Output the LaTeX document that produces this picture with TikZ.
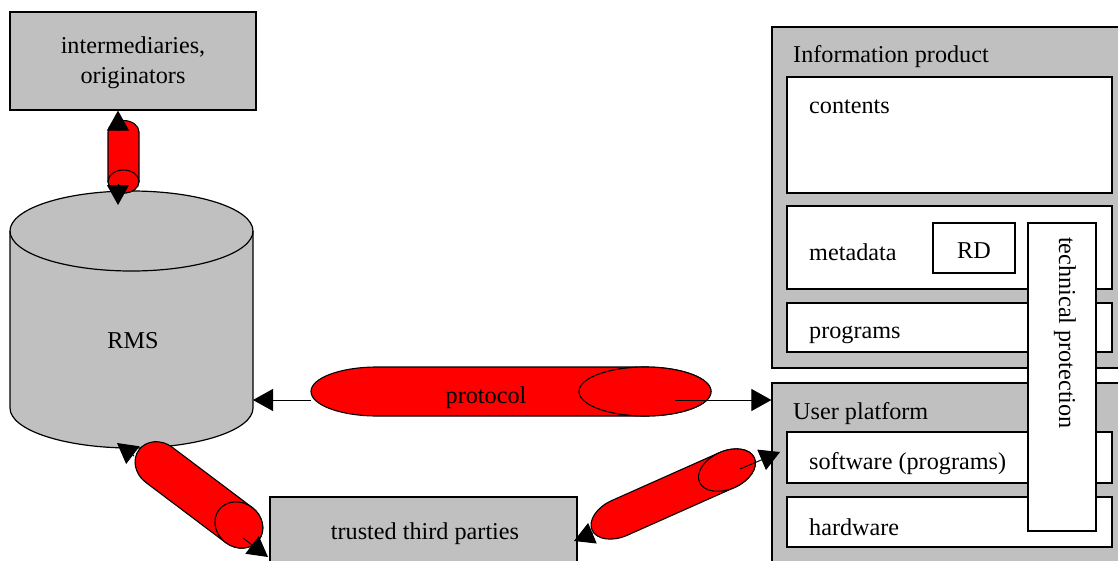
\documentclass[tikz,border=0pt]{standalone}
\usepackage{fontspec}
\setmainfont{Liberation Serif}
\usetikzlibrary{arrows.meta}
\definecolor{boxgray}{HTML}{C0C0C0}
\definecolor{canred}{HTML}{FF0000}
% #1,#2 = cap centre (px), #3 = canvas angle, #4 = length, #5 = half width, #6 = face semi-axis along axis
\newcommand\redcan[6]{%
  \begin{scope}[shift={(#1,#2)},rotate=#3]
    \filldraw[canstyle] (0pt,-#5pt) -- (#4pt,-#5pt)
      arc[start angle=-90,end angle=90,x radius=#6pt,y radius=#5pt]
      -- (0pt,#5pt)
      arc[start angle=90,end angle=270,x radius=#6pt,y radius=#5pt] -- cycle;
    \filldraw[canstyle] (#4pt,0pt) ellipse[x radius=#6pt,y radius=#5pt];
  \end{scope}}
\begin{document}
\begin{tikzpicture}[x=1pt,y=-1pt,
  every node/.style={font=\fontsize{24.2}{30}\selectfont, inner sep=0pt},
  graybox/.style={draw, fill=boxgray, line width=1.2pt},
  whitebox/.style={draw, fill=white, line width=1.2pt},
  canstyle/.style={fill=canred, draw=black, line width=1.1pt},
  arr/.style={line width=1pt, -{Triangle[length=20pt,width=22pt]}},
  lbl/.style={anchor=west}]
\useasboundingbox (0,0) rectangle (1118,560);
\clip (0,0) rectangle (1118,560);

% intermediaries box
\node[graybox, minimum width=246pt, minimum height=98pt] (inter) at (133,61) {};
\node[align=center] (intertext) at (133,63) {intermediaries,\\originators};

% RMS cylinder
\filldraw[fill=boxgray, draw=black, line width=1.2pt]
  (10,231) -- (10,408) arc[start angle=180,end angle=360,x radius=121.5pt,y radius=40pt]
  -- (253,231) arc[start angle=0,end angle=180,x radius=121.5pt,y radius=40pt] -- cycle;
\draw[line width=1.2pt] (10,231) arc[start angle=180,end angle=360,x radius=121.5pt,y radius=40pt];
\node (rms) at (133,341) {RMS};

% trusted third parties
\node[graybox, minimum width=307pt, minimum height=83pt] (ttp) at (423.5,538.5) {};
\node (ttptext) at (425,534) {trusted third parties};

% Information product
\node[graybox, minimum width=363pt, minimum height=341pt] (ip) at (953.5,197.5) {};
\node[lbl] (iptext) at (793,57) {Information product};
\node[whitebox, minimum width=325pt, minimum height=116pt] (contents) at (949.5,135) {};
\node[lbl] at (809,107) {contents};
\node[whitebox, minimum width=325pt, minimum height=83pt] (meta) at (949.5,247.5) {};
\node[lbl] at (809,252) {metadata};
\node[whitebox, minimum width=82pt, minimum height=50pt] (rd) at (974,248) {};
\node at (974,251) {RD};
\node[whitebox, minimum width=325pt, minimum height=49pt] (prog) at (949.5,327.5) {};
\node[lbl] at (809,335) {programs};

% User platform
\node[graybox, minimum width=363pt, minimum height=197pt] (up) at (953.5,481.5) {};
\node[lbl] (uptext) at (793,414) {User platform};
\node[whitebox, minimum width=325pt, minimum height=51pt] (sw) at (949.5,457.5) {};
\node[lbl] at (809,464) {software (programs)};
\node[whitebox, minimum width=325pt, minimum height=50pt] (hw) at (949.5,522) {};
\node[lbl] at (809,527) {hardware};

% technical protection
\node[whitebox, minimum width=68pt, minimum height=308pt] (tech) at (1062,377) {};
\node[rotate=-90, anchor=west] (techtext) at (1065,237) {technical protection};

% red cans
\redcan{123.5}{132}{-90}{49.5}{15.5}{11.5}
\redcan{377}{391.5}{0}{268}{24.5}{66}
\redcan{159}{464.8}{-37}{100}{22}{25}
\redcan{619.5}{517.9}{24}{117.6}{19}{30}
\node (proto) at (486,398) {protocol};

% connector coordinates
\coordinate (v1a) at (118,130);
\coordinate (v1b) at (118,184);
\coordinate (rmsT) at (118,205);
\coordinate (pL) at (311,400);
\coordinate (pR) at (675,400);
\coordinate (rmsE) at (253,400);
\coordinate (d1a) at (134,456);
\coordinate (rmsB) at (117,443);
\coordinate (d1b) at (243,538);
\coordinate (ttpA) at (268,557);
\coordinate (d2a) at (593,533);
\coordinate (ttpB) at (574,541);
\coordinate (d2b) at (740,469);
\coordinate (upB) at (780,452);

\draw[arr] (v1a) -- (inter.south -| v1a);
\draw[arr] (v1b) -- (rmsT);
\draw[arr] (pL) -- (rmsE);
\draw[arr] (pR) -- (up.west |- pR);
\draw[arr] (d1a) -- (rmsB);
\draw[arr] (d1b) -- (ttpA);
\draw[arr] (d2a) -- (ttpB);
\draw[arr] (d2b) -- (upB);
\end{tikzpicture}
\end{document}
